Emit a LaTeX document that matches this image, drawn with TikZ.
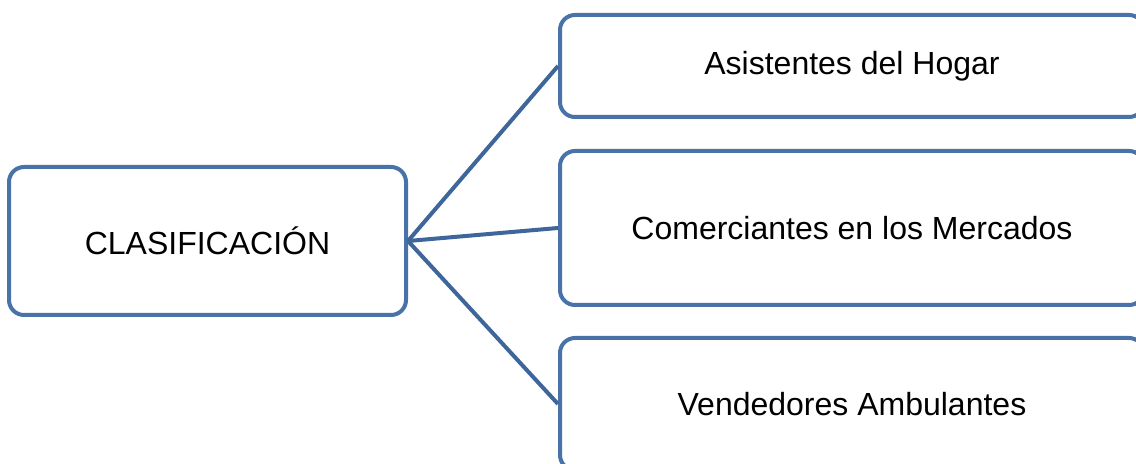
\documentclass[tikz,border=0pt]{standalone}
\usepackage{fontspec}
\setmainfont{Liberation Sans}
\usepackage{tikz}

\definecolor{boxblue}{RGB}{72,114,168}
\definecolor{lineblue}{RGB}{62,102,154}

\tikzset{
    catbox/.style={draw=boxblue, rounded corners=7.5pt, fill=white, font=\fontsize{16}{19}\selectfont, inner sep=0pt},
    branch/.style={draw=lineblue}
}

\begin{document}
\begin{tikzpicture}[x=0.5pt, y=-0.5pt, line width=2pt]
    \useasboundingbox (0,0) rectangle (1136,464);

    \node[catbox, minimum width=198.5pt, minimum height=74pt] (clas) at (207.5,241) {CLASIFICACIÓN};

    \node[catbox, minimum width=292pt, minimum height=51pt] (hogar) at (852,66) {Asistentes del Hogar};
    \node[catbox, minimum width=292pt, minimum height=77pt] (merc) at (852,228) {Comerciantes en los Mercados};
    \node[catbox, minimum width=292pt, minimum height=66pt] (vend) at (852,404) {Vendedores Ambulantes};

    \draw[branch] (clas.east) -- (hogar.west);
    \draw[branch] (clas.east) -- (merc.west);
    \draw[branch] (clas.east) -- (vend.west);
\end{tikzpicture}
\end{document}
